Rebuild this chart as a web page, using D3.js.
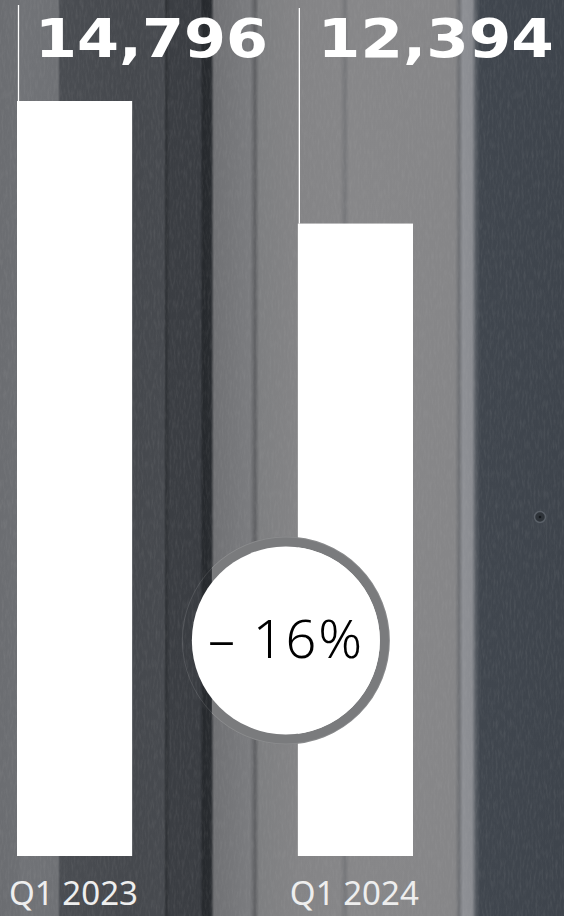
<!DOCTYPE html>
<html>
<head>
<meta charset="utf-8">
<script src="https://cdn.jsdelivr.net/npm/d3@7"></script>
<style>
  html, body { margin: 0; padding: 0; background: #5a5c60; }
  svg { display: block; }
</style>
</head>
<body>
<svg id="chart" width="564" height="916"></svg>
<script>
// ---- data ----
const categories = ["Q1 2023", "Q1 2024"];
const values = [14796, 12394];
const valueLabels = ["14,796", "12,394"];

// ---- layout ----
const W = 564, H = 916;
const svg = d3.select("#chart");
const defs = svg.append("defs");

// background (photo of concrete wall / door frame) approximated with gradient stripes
const bgStops = [
  [0, "#6b6d71"], [19, "#6d6f73"], [21, "#717377"], [58, "#6f7175"], [60, "#4a4d52"],
  [133, "#45484d"], [164, "#474a4f"], [166, "#2f3236"], [170, "#3b3e43"],
  [200, "#3a3d42"], [203, "#26292d"], [211, "#2a2d31"], [214, "#707174"],
  [250, "#7b7c7f"], [255, "#5f6063"], [259, "#7e7f81"], [297, "#848486"],
  [340, "#868688"], [345, "#76777a"], [349, "#878789"], [455, "#868688"],
  [459, "#6e7074"], [463, "#8e9095"], [472, "#8a8c91"], [476, "#555a61"],
  [480, "#40464e"], [564, "#3e444c"]
];
const bgGrad = defs.append("linearGradient").attr("id", "bg")
  .attr("x1", 0).attr("x2", 1).attr("y1", 0).attr("y2", 0);
bgStops.forEach(([x, c]) => bgGrad.append("stop").attr("offset", (x / W)).attr("stop-color", c));

const noise = defs.append("filter").attr("id", "noise").attr("x", 0).attr("y", 0).attr("width", 1).attr("height", 1);
noise.append("feTurbulence").attr("type", "fractalNoise").attr("baseFrequency", "0.5 0.1").attr("numOctaves", 3).attr("seed", 4);
noise.append("feColorMatrix").attr("type", "matrix")
  .attr("values", "0 0 0 0 0.5  0 0 0 0 0.5  0 0 0 0 0.5  0 0 0 1.2 -0.5");

svg.append("rect").attr("width", W).attr("height", H).attr("fill", "url(#bg)");
svg.append("rect").attr("width", W).attr("height", H).attr("filter", "url(#noise)").attr("opacity", 0.18);

// screw in the door (photo detail)
svg.append("circle").attr("cx", 540).attr("cy", 517).attr("r", 5.5)
  .attr("fill", "#2e3339").attr("stroke", "#5a6068").attr("stroke-width", 1.5);
svg.append("circle").attr("cx", 540).attr("cy", 517).attr("r", 1.3).attr("fill", "#15181c");

// ---- scales ----
const x = d3.scaleBand().domain(categories).range([17, 413]).paddingInner(0.59).paddingOuter(0);
const y = d3.scaleLinear().domain([0, d3.max(values)]).range([856, 101]);

const data = categories.map((c, i) => ({ cat: c, value: values[i], label: valueLabels[i] }));

// bars
svg.selectAll("rect.bar").data(data).join("rect")
  .attr("class", "bar")
  .attr("x", d => x(d.cat))
  .attr("y", d => y(d.value))
  .attr("width", x.bandwidth())
  .attr("height", d => y(0) - y(d.value))
  .attr("fill", "#ffffff");

// thin leader lines from value label to bar top
svg.selectAll("line.lead").data(data).join("line")
  .attr("class", "lead")
  .attr("x1", d => x(d.cat) + 1.5).attr("x2", d => x(d.cat) + 1.5)
  .attr("y1", (d, i) => i === 0 ? 5 : 8)
  .attr("y2", d => y(d.value))
  .attr("stroke", "#ffffff").attr("stroke-width", 1.3);

// value labels
svg.selectAll("text.val").data(data).join("text")
  .attr("class", "val")
  .attr("x", (d, i) => x(d.cat) + (i === 0 ? 18 : 20))
  .attr("y", 57)
  .attr("font-family", "DejaVu Sans, sans-serif")
  .attr("font-weight", "bold")
  .attr("font-size", 53)
  .attr("textLength", (d, i) => i === 0 ? 233 : 236)
  .attr("lengthAdjust", "spacingAndGlyphs")
  .attr("fill", "#ffffff")
  .text(d => d.label);

// category labels
svg.selectAll("text.cat").data(data).join("text")
  .attr("class", "cat")
  .attr("x", d => x(d.cat) - 8)
  .attr("y", 905)
  .attr("font-family", "Noto Sans, Open Sans, sans-serif")
  .attr("font-size", 32)
  .attr("textLength", 129)
  .attr("lengthAdjust", "spacingAndGlyphs")
  .attr("fill", "#eeeeee")
  .text(d => d.cat);

// change badge
const change = (values[1] - values[0]) / values[0] * 100;
const changeText = (change < 0 ? "– " : "+ ") + Math.round(Math.abs(change)) + "%";
const cx = x(categories[1]) - 12, cy = 640.5;

defs.append("clipPath").attr("id", "ringclip")
  .append("rect").attr("x", 212).attr("y", 0).attr("width", W).attr("height", H);
svg.append("circle").attr("cx", cx).attr("cy", cy).attr("r", 99)
  .attr("fill", "none").attr("stroke", "#7a7b7d").attr("stroke-width", 10)
  .attr("clip-path", "url(#ringclip)");
svg.append("circle").attr("cx", cx).attr("cy", cy).attr("r", 103.5)
  .attr("fill", "none").attr("stroke", "rgba(255,255,255,0.12)").attr("stroke-width", 1);
svg.append("circle").attr("cx", cx).attr("cy", cy).attr("r", 94)
  .attr("fill", "#ffffff");
svg.append("text")
  .attr("x", 208).attr("y", 658)
  .attr("font-family", "Noto Sans, Open Sans, sans-serif")
  .attr("font-weight", 300)
  .attr("font-size", 54)
  .attr("textLength", 154)
  .attr("lengthAdjust", "spacing")
  .attr("fill", "#000000")
  .text(changeText);
</script>
</body>
</html>
